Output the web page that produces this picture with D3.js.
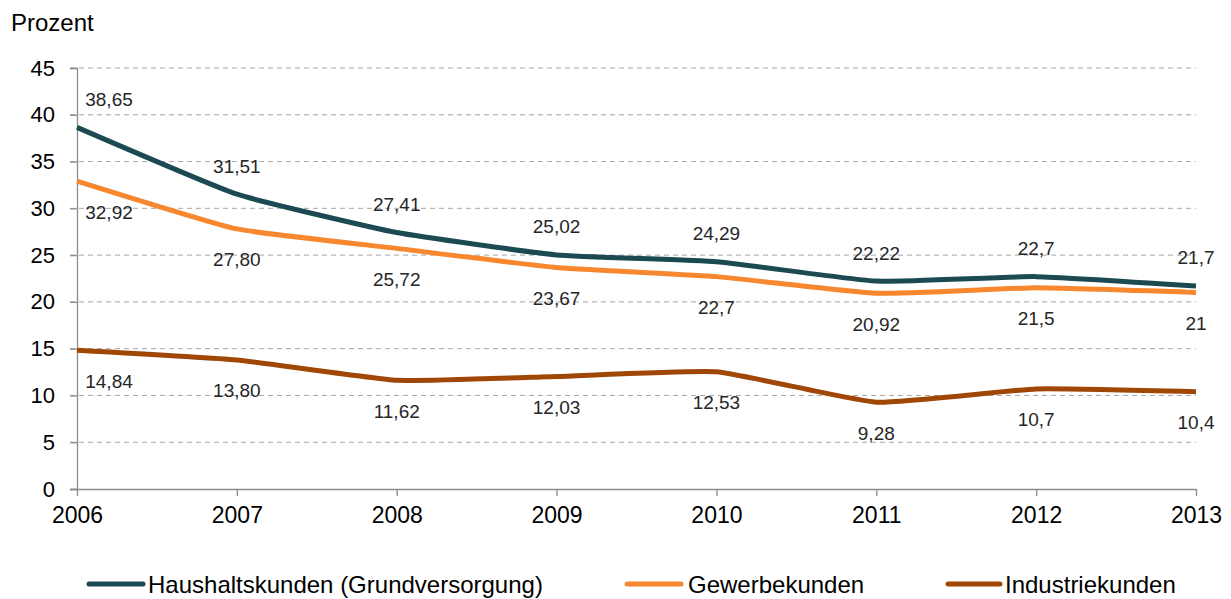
<!DOCTYPE html>
<html>
<head>
<meta charset="utf-8">
<script src="https://cdn.jsdelivr.net/npm/d3@7"></script>
<style>
  html, body { margin: 0; padding: 0; background: #fff; }
  svg { display: block; font-family: "Liberation Sans", Arial, sans-serif; }
</style>
</head>
<body>
<svg id="chart" width="1231" height="599"></svg>
<script>
// ---- data ----
const years = ["2006", "2007", "2008", "2009", "2010", "2011", "2012", "2013"];
const yTicks = [0, 5, 10, 15, 20, 25, 30, 35, 40, 45];
const seriesNames = ["Haushaltskunden (Grundversorgung)", "Gewerbekunden", "Industriekunden"];
const haushalt = [38.65, 31.51, 27.41, 25.02, 24.29, 22.22, 22.7, 21.7];
const gewerbe = [32.92, 27.80, 25.72, 23.67, 22.7, 20.92, 21.5, 21];
const industrie = [14.84, 13.80, 11.62, 12.03, 12.53, 9.28, 10.7, 10.4];
const haushaltLabels = ["38,65", "31,51", "27,41", "25,02", "24,29", "22,22", "22,7", "21,7"];
const gewerbeLabels = ["32,92", "27,80", "25,72", "23,67", "22,7", "20,92", "21,5", "21"];
const industrieLabels = ["14,84", "13,80", "11,62", "12,03", "12,53", "9,28", "10,7", "10,4"];
const yLabel = "Prozent";

// ---- layout ----
const colors = ["#1B4A52", "#F7882F", "#A04706"];
const svg = d3.select("#chart");
const x = d3.scalePoint().domain(years).range([77, 1196]);
const y = d3.scaleLinear().domain([0, 45]).range([489, 68]);

// gridlines
svg.append("g").selectAll("line").data(yTicks.filter(d => d > 0)).join("line")
  .attr("x1", 70).attr("x2", 1196)
  .attr("y1", d => y(d)).attr("y2", d => y(d))
  .attr("stroke", "#a6a6a6").attr("stroke-width", 1)
  .attr("stroke-dasharray", "5,4");

// y axis
const yAxis = svg.append("g").attr("transform", "translate(77,0)")
  .call(d3.axisLeft(y).tickValues(yTicks).tickSize(7).tickPadding(15).tickFormat(d3.format("d")));
yAxis.select(".domain").attr("stroke", "#8c8c8c").attr("stroke-width", 1.3);
yAxis.selectAll(".tick line").attr("stroke", "#8c8c8c").attr("stroke-width", 1.3);
yAxis.selectAll("text").attr("font-size", 22).attr("fill", "#000")
  .attr("font-family", "Liberation Sans, Arial, sans-serif");

// x axis
const xAxis = svg.append("g").attr("transform", "translate(0,489)")
  .call(d3.axisBottom(x).tickSize(7).tickSizeOuter(0).tickPadding(11));
xAxis.select(".domain").attr("stroke", "#8c8c8c").attr("stroke-width", 1.3)
  .attr("d", "M70,0.5H1196");
xAxis.selectAll(".tick line").attr("stroke", "#8c8c8c").attr("stroke-width", 1.3);
xAxis.selectAll("text").attr("font-size", 23).attr("fill", "#000")
  .attr("font-family", "Liberation Sans, Arial, sans-serif");

// y label
svg.append("text").attr("x", 11).attr("y", 31)
  .attr("font-size", 24).attr("fill", "#000").text(yLabel);

// lines
const allSeries = [haushalt, gewerbe, industrie];
const allLabels = [haushaltLabels, gewerbeLabels, industrieLabels];
const labelOffsets = [-28, 31, 31];
const line = d3.line().x((d, i) => x(years[i])).y(d => y(d)).curve(d3.curveCardinal.tension(0.6));

allSeries.forEach((s, k) => {
  svg.append("path").datum(s)
    .attr("fill", "none").attr("stroke", colors[k])
    .attr("stroke-width", 5).attr("stroke-linejoin", "round")
    .attr("d", line);
});

allSeries.forEach((s, k) => {
  svg.append("g").selectAll("text").data(s).join("text")
    .attr("x", (d, i) => x(years[i]) + (i === 0 ? 32 : 0))
    .attr("y", d => y(d) + labelOffsets[k])
    .attr("text-anchor", "middle")
    .attr("dominant-baseline", "central")
    .attr("font-size", 19).attr("fill", "#262626")
    .text((d, i) => allLabels[k][i]);
});

// legend
const legendItems = [
  { x1: 89, x2: 143, tx: 148 },
  { x1: 627, x2: 681, tx: 688 },
  { x1: 948, x2: 1000, tx: 1005 }
];
const lg = svg.append("g");
seriesNames.forEach((name, k) => {
  const it = legendItems[k];
  lg.append("line").attr("x1", it.x1).attr("x2", it.x2)
    .attr("y1", 584).attr("y2", 584)
    .attr("stroke", colors[k]).attr("stroke-width", 5).attr("stroke-linecap", "round");
  lg.append("text").attr("x", it.tx).attr("y", 584)
    .attr("dominant-baseline", "central")
    .attr("font-size", 24).attr("fill", "#000").text(name);
});
</script>
</body>
</html>
